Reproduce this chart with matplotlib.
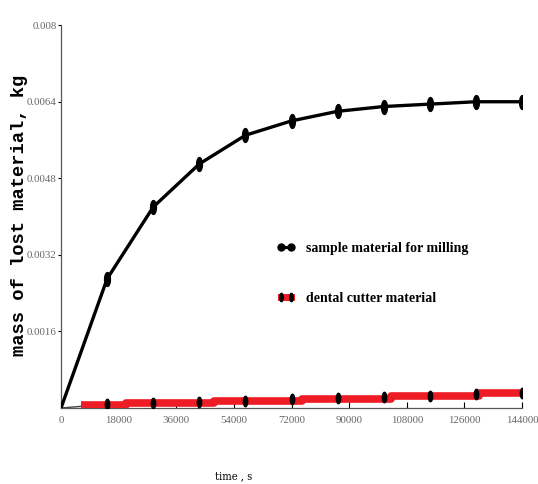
import numpy as np
import matplotlib
matplotlib.use("Agg")
import matplotlib.pyplot as plt
from matplotlib.lines import Line2D

# time, s (markers every 14400 s)
time_s = [0, 14400, 28800, 43200, 57600, 72000, 86400, 100800, 115200, 129600, 144000]

# mass of lost material, kg
mass_sample = [0.0, 0.0027, 0.0042, 0.0051, 0.0057, 0.0060, 0.0062, 0.0063, 0.00635, 0.0064, 0.0064]
mass_cutter = [0.0, 0.00008, 0.00010, 0.00013, 0.00015, 0.00018, 0.00021, 0.00023, 0.00026, 0.00029, 0.00031]

# the red band of the cutter curve is drawn as coarse steps in the original
cutter_step_t = [6300, 20300, 47900, 75400, 103000, 130500, 144000]
cutter_step_m = [0.000063, 0.000104, 0.00015, 0.000188, 0.00025, 0.000313, 0.000313]

x_ticks = [0, 18000, 36000, 54000, 72000, 90000, 108000, 126000, 144000]
y_ticks = [0.0016, 0.0032, 0.0048, 0.0064, 0.008]
y_tick_labels = ["0.0016", "0.0032", "0.0048", "0.0064", "0.008"]

tick_font = dict(family="Liberation Serif", size=7.8, color="#666666")

# narrow upright ellipse used as marker
ang = np.linspace(0, 2 * np.pi, 40)
ellipse = np.column_stack([0.42 * np.cos(ang), np.sin(ang)])

fig = plt.figure(figsize=(5.38, 4.84), dpi=100)
ax = fig.add_axes([0.1134, 0.157, 0.857, 0.791])

ax.plot(time_s, mass_sample, color="black", lw=2.4, marker=ellipse, ms=10,
        mfc="black", mec="black", markevery=list(range(1, len(time_s))), zorder=3)

ax.plot(time_s, mass_cutter, color="#444444", lw=1.0, zorder=2)
ax.step(cutter_step_t, cutter_step_m, where="post", color="#ee1c25",
        lw=5.5, solid_capstyle="butt", zorder=3)
ax.plot(time_s[1:], mass_cutter[1:], ls="none", marker=ellipse, ms=7.5,
        mfc="black", mec="black", zorder=4)

ax.set_xlim(0, 144000)
ax.set_ylim(0, 0.008)
ax.set_xticks(x_ticks)
ax.set_xticklabels([str(t) for t in x_ticks], fontdict=tick_font)
ax.set_yticks(y_ticks)
ax.set_yticklabels(y_tick_labels, fontdict=tick_font)
ax.tick_params(axis="x", direction="in", length=4, width=0.8, pad=6)
ax.tick_params(axis="y", direction="out", length=2, width=0.8, pad=1)

for side in ["top", "right"]:
    ax.spines[side].set_visible(False)
ax.spines["left"].set_color("#555555")
ax.spines["bottom"].set_color("#555555")
ax.spines["left"].set_linewidth(0.9)
ax.spines["bottom"].set_linewidth(0.9)

fig.text(0.037, 0.555, "mass of lost material, kg", rotation=90,
         ha="center", va="center", family="Liberation Mono",
         weight="bold", size=13.5)
fig.text(0.435, 0.005, "time , s", ha="center", va="bottom",
         family="DejaVu Serif", stretch="condensed", size=8)

handles = [
    Line2D([], [], color="black", lw=2.3, marker="o", ms=5,
           mfc="black", mec="black"),
    Line2D([], [], color="#ee1c25", lw=5, marker=ellipse, ms=6,
           mfc="black", mec="black"),
]
ax.legend(handles, ["sample material for milling", "dental cutter material"],
          loc="upper left", bbox_to_anchor=(0.442, 0.467), frameon=False,
          handlelength=1.3, numpoints=2, labelspacing=2.65, handletextpad=0.8,
          prop=dict(family="Liberation Serif", weight="bold", size=10))

fig.savefig("out.png", dpi=100)
